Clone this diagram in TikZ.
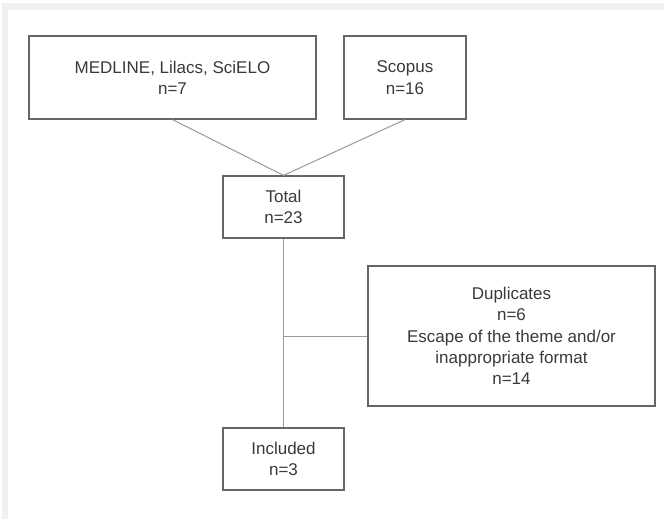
\documentclass[tikz,border=0pt]{standalone}
\usepackage{fontspec}
\setmainfont{Liberation Sans}
\definecolor{boxline}{HTML}{666666}
\definecolor{linkline}{HTML}{9A9A9A}
\definecolor{boxtext}{HTML}{3A3A3A}

\begin{document}
\begin{tikzpicture}[x=1pt,y=-1pt,
        box/.style={draw=boxline, line width=1.2pt, align=center, text=boxtext,
            inner sep=0pt, font=\fontsize{17}{21.3}\selectfont},
        link/.style={draw=linkline, line width=1pt}]
    \useasboundingbox (0,0) rectangle (664,519);
    \fill[gray!12] (2,3) rectangle (664,519);
    \fill[white] (8,10) rectangle (664,519);

    \node[box, minimum width=287pt, minimum height=83pt] (med) at (172.5,77.5) {MEDLINE, Lilacs, SciELO\\n=7};
    \node[box, minimum width=122pt, minimum height=83pt] (scopus) at (405,77.5) {Scopus\\n=16};
    \node[box, minimum width=121pt, minimum height=62pt] (total) at (283.5,207) {Total\\n=23};
    \node[box, minimum width=287pt, minimum height=140pt] (excl) at (511.5,336) {Duplicates\\n=6\\Escape of the theme and/or\\inappropriate format\\n=14};
    \node[box, minimum width=121pt, minimum height=62pt] (incl) at (283.5,459) {Included\\n=3};
    \coordinate (split) at (excl.west -| total.south);

    \draw[link] (med.south) -- (total.north);
    \draw[link] (scopus.south) -- (total.north);
    \draw[link] (total.south) -- (incl.north);
    \draw[link] (split) -- (excl.west);
\end{tikzpicture}
\end{document}
